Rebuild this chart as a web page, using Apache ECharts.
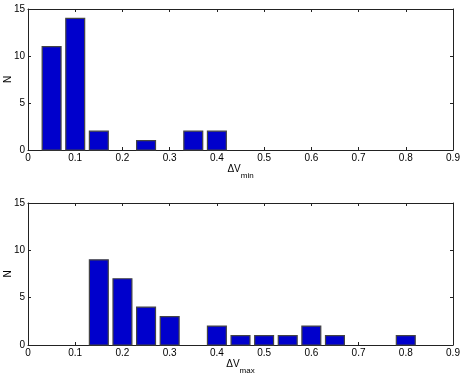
<!DOCTYPE html>
<html>
<head>
<meta charset="utf-8">
<script src="https://cdn.jsdelivr.net/npm/echarts@6/dist/echarts.min.js"></script>
<style>
  html, body { margin: 0; padding: 0; background: #fff; }
  #main { width: 463px; height: 375px; }
</style>
</head>
<body>
<div id="main"></div>
<script>
// x tick labels and y ticks
const xTicks = [0, 0.1, 0.2, 0.3, 0.4, 0.5, 0.6, 0.7, 0.8, 0.9];
const yTicks = [0, 5, 10, 15];

// dV_min histogram
const minCenters = [0.05, 0.1, 0.15, 0.25, 0.35, 0.4];
const minCounts = [11, 14, 2, 1, 2, 2];

// dV_max histogram
const maxCenters = [0.15, 0.2, 0.25, 0.3, 0.4, 0.45, 0.5, 0.55, 0.6, 0.65, 0.8];
const maxCounts = [9, 7, 4, 3, 2, 1, 1, 1, 2, 1, 1];

const binWidth = 0.04;
const font = 'Liberation Sans, Arial, sans-serif';
const axisColor = '#222';

const chart = echarts.init(document.getElementById('main'));

function pairs(xs, ys) {
  return xs.map((x, i) => [x, ys[i]]);
}

// histogram bar drawn through the axis scales
function renderBar(params, api) {
  const x = api.value(0);
  const y = api.value(1);
  const p0 = api.coord([x - binWidth / 2, y]);
  const p1 = api.coord([x + binWidth / 2, 0]);
  return {
    type: 'rect',
    shape: { x: p0[0], y: p0[1], width: p1[0] - p0[0], height: p1[1] - p0[1] },
    style: { fill: '#0000cc', stroke: '#444', lineWidth: 1.2 }
  };
}

function xMain(idx, sub) {
  return {
    type: 'value', gridIndex: idx, min: 0, max: 0.9, interval: 0.1,
    position: 'bottom',
    name: '{a|ΔV}{b|' + sub + '}',
    nameLocation: 'middle', nameGap: 14, nameMoveOverlap: false,
    nameTextStyle: {
      rich: {
        a: { fontFamily: font, fontSize: 10, color: '#000', verticalAlign: 'top' },
        b: { fontFamily: font, fontSize: 8, color: '#000', verticalAlign: 'bottom', padding: [8, 0, 0, 0] }
      }
    },
    axisLine: { show: true, onZero: false, lineStyle: { color: axisColor } },
    axisTick: { show: true, inside: true, length: 3, lineStyle: { color: axisColor } },
    axisLabel: {
      fontFamily: font, fontSize: 10, color: '#000', margin: 3,
      formatter: v => String(xTicks.find(t => Math.abs(t - v) < 1e-9) ?? v)
    },
    splitLine: { show: false }
  };
}

function xTop(idx) {
  return {
    type: 'value', gridIndex: idx, min: 0, max: 0.9, interval: 0.1, position: 'top',
    axisLine: { show: true, onZero: false, lineStyle: { color: axisColor } },
    axisTick: { show: true, inside: true, length: 3, lineStyle: { color: axisColor } },
    axisLabel: { show: false }, splitLine: { show: false }
  };
}

function yMain(idx) {
  return {
    type: 'value', gridIndex: idx, min: yTicks[0], max: yTicks[yTicks.length - 1], interval: 5,
    position: 'left',
    name: 'N', nameLocation: 'middle', nameGap: 15, nameMoveOverlap: false,
    nameTextStyle: { fontFamily: font, fontSize: 10, color: '#000' },
    axisLine: { show: true, onZero: false, lineStyle: { color: axisColor } },
    axisTick: { show: true, inside: true, length: 3, lineStyle: { color: axisColor } },
    axisLabel: { fontFamily: font, fontSize: 10, color: '#000', margin: 3 },
    splitLine: { show: false }
  };
}

function yRight(idx) {
  return {
    type: 'value', gridIndex: idx, min: yTicks[0], max: yTicks[yTicks.length - 1], interval: 5,
    position: 'right',
    axisLine: { show: true, onZero: false, lineStyle: { color: axisColor } },
    axisTick: { show: true, inside: true, length: 3, lineStyle: { color: axisColor } },
    axisLabel: { show: false }, splitLine: { show: false }
  };
}

chart.setOption({
  animation: false,
  grid: [
    { left: 28, right: 10, top: 9, height: 141, outerBoundsMode: 'none', containLabel: false },
    { left: 28, right: 10, top: 203, height: 142, outerBoundsMode: 'none', containLabel: false }
  ],
  xAxis: [xMain(0, 'min'), xMain(1, 'max'), xTop(0), xTop(1)],
  yAxis: [yMain(0), yMain(1), yRight(0), yRight(1)],
  series: [
    { type: 'custom', xAxisIndex: 0, yAxisIndex: 0, renderItem: renderBar,
      encode: { x: 0, y: 1 }, data: pairs(minCenters, minCounts) },
    { type: 'custom', xAxisIndex: 1, yAxisIndex: 1, renderItem: renderBar,
      encode: { x: 0, y: 1 }, data: pairs(maxCenters, maxCounts) }
  ]
});
</script>
</body>
</html>
